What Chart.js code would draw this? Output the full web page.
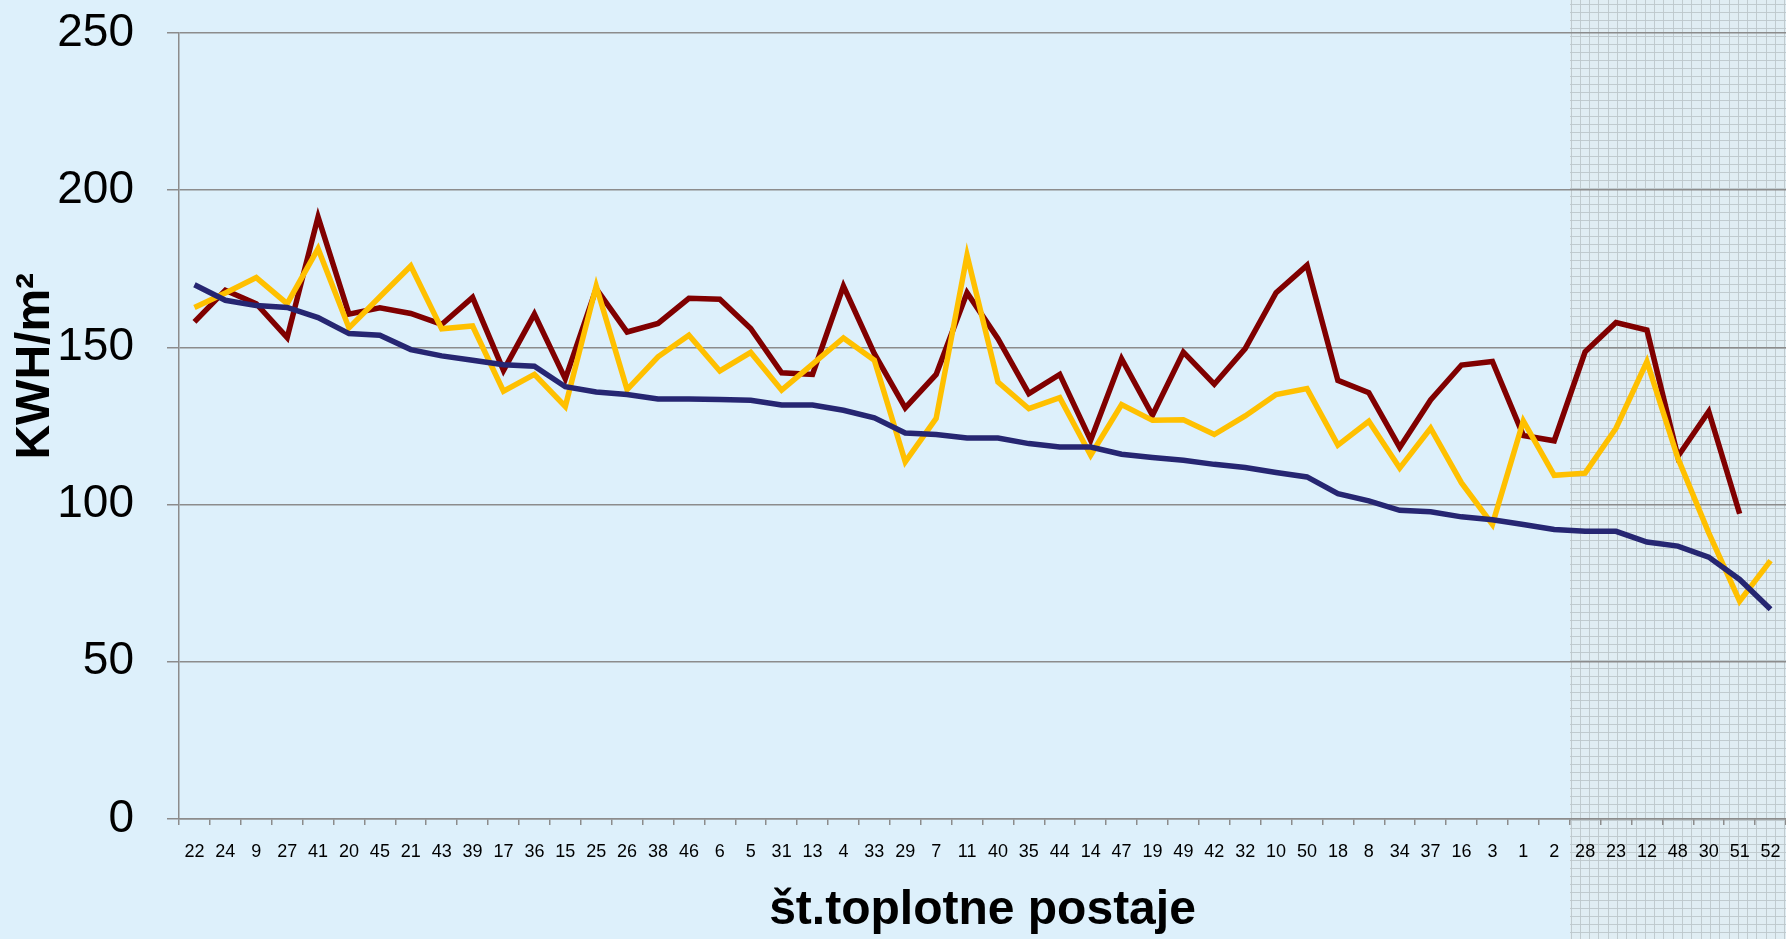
<!DOCTYPE html>
<html>
<head>
<meta charset="utf-8">
<script src="https://cdn.jsdelivr.net/npm/chart.js@4.4.0/dist/chart.umd.min.js"></script>
<style>
  html, body { margin: 0; padding: 0; background: #ddf0fb; }
  #wrap { width: 1786px; height: 939px; }
</style>
</head>
<body>
<div id="wrap"><canvas id="c" width="1786" height="939"></canvas></div>
<script>
const categories = ['22','24','9','27','41','20','45','21','43','39','17','36','15','25','26','38','46','6','5','31','13','4','33','29','7','11','40','35','44','14','47','19','49','42','32','10','50','18','8','34','37','16','3','1','2','28','23','12','48','30','51','52'];

const seriesRed = [158.1,168.2,163.9,153.1,191.5,160.6,162.6,160.8,157.3,165.9,142.7,160.6,140.0,168.7,154.9,157.6,165.6,165.3,156.0,141.9,141.4,169.5,148.0,130.8,141.4,167.4,152.8,135.3,141.4,120.5,146.4,128.4,148.5,138.3,149.6,167.4,176.1,139.5,135.6,118.2,133.3,144.4,145.5,122.0,120.3,148.6,157.9,155.5,115.3,129.6,97.1,null];

const seriesYellow = [162.7,167.3,172.2,163.9,181.4,156.2,166.1,175.9,155.9,156.8,136.1,141.4,131.2,169.5,136.6,147.0,153.9,142.5,148.4,136.4,144.7,153.0,145.9,113.6,127.4,179.3,139.0,130.5,134.0,115.7,131.8,126.8,127.0,122.3,128.2,135.0,136.9,118.9,126.5,111.6,124.3,106.9,93.7,126.6,109.3,110.0,124.3,145.5,114.8,91.0,69.3,82.2];

const seriesBlue = [169.9,165.0,163.3,162.7,159.5,154.4,153.9,149.3,147.3,145.9,144.5,144.0,137.5,135.8,135.0,133.6,133.6,133.4,133.2,131.7,131.7,130.0,127.6,122.8,122.3,121.2,121.2,119.4,118.3,118.3,116.0,115.0,114.1,112.8,111.8,110.2,108.8,103.5,101.2,98.2,97.7,96.1,95.2,93.7,92.1,91.5,91.5,88.1,86.8,83.3,76.2,66.7];

const yTicks = [0, 50, 100, 150, 200, 250];
const shadedFrom = '28';
const xTitle = 'št.toplotne postaje';
const yTitle = 'KWH/m²';

const bgPlugin = {
  id: 'bgPlugin',
  beforeDraw(chart) {
    const ctx = chart.ctx;
    const W = chart.width, H = chart.height;
    ctx.save();
    ctx.fillStyle = '#ddf0fb';
    ctx.fillRect(0, 0, W, H);
    const xs = chart.scales.x;
    const idx = categories.indexOf(shadedFrom);
    const half = (xs.getPixelForValue(1) - xs.getPixelForValue(0)) / 2;
    const x0 = Math.round(xs.getPixelForValue(idx) - half);
    ctx.fillStyle = '#e0edf3';
    ctx.fillRect(x0, 0, W - x0, H);
    ctx.strokeStyle = 'rgba(188,198,203,0.9)';
    ctx.lineWidth = 1;
    ctx.beginPath();
    for (let x = x0 + 0.5; x < W; x += 9.3) {
      ctx.moveTo(Math.round(x) + 0.5, 0);
      ctx.lineTo(Math.round(x) + 0.5, H);
    }
    for (let y = 4; y < H; y += 8) {
      ctx.moveTo(x0, y + 0.5);
      ctx.lineTo(W, y + 0.5);
    }
    ctx.stroke();
    ctx.restore();
  },
  afterDraw(chart) {
    const ctx = chart.ctx;
    const ys = chart.scales.y;
    ctx.save();
    ctx.fillStyle = '#000';
    ctx.font = 'bold 48px "Liberation Sans", Arial, sans-serif';
    ctx.textAlign = 'center';
    ctx.textBaseline = 'alphabetic';
    const cy = ys.getPixelForValue(144);
    ctx.translate(49, cy);
    ctx.rotate(-Math.PI / 2);
    ctx.fillText(yTitle, 0, 0);
    ctx.restore();
  }
};

const gridGray = '#8c8c8c';

new Chart(document.getElementById('c'), {
  type: 'line',
  data: {
    labels: categories,
    datasets: [
      { label: 'blue', data: seriesBlue, borderColor: '#262672', borderWidth: 5.5, order: 1 },
      { label: 'yellow', data: seriesYellow, borderColor: '#ffc000', borderWidth: 5.5, order: 2 },
      { label: 'red', data: seriesRed, borderColor: '#800000', borderWidth: 5.5, order: 3 }
    ]
  },
  options: {
    responsive: false,
    animation: false,
    devicePixelRatio: 1,
    layout: { padding: { top: 33, right: 0, left: 0, bottom: 0 } },
    elements: {
      line: { tension: 0, fill: false, borderJoinStyle: 'miter' },
      point: { radius: 0, hoverRadius: 0 }
    },
    plugins: {
      legend: { display: false },
      tooltip: { enabled: false }
    },
    scales: {
      x: {
        type: 'category',
        offset: true,
        afterFit(scale) { scale.height = 120; scale.paddingLeft = 0; scale.paddingRight = 0; },
        grid: {
          offset: true,
          drawOnChartArea: false,
          drawTicks: true,
          tickLength: 6,
          color: gridGray,
          lineWidth: 1.5
        },
        border: { display: true, color: gridGray, width: 1.5 },
        ticks: {
          autoSkip: false,
          maxRotation: 0,
          minRotation: 0,
          padding: 16,
          color: '#000',
          font: { family: '"Liberation Sans", Arial, sans-serif', size: 18 }
        },
        title: {
          display: true,
          text: xTitle,
          color: '#000',
          font: { family: '"Liberation Sans", Arial, sans-serif', size: 48, weight: 'bold', lineHeight: 1 },
          padding: { top: 0, bottom: 4 }
        }
      },
      y: {
        min: 0,
        max: 250,
        afterFit(scale) { scale.width = 179; scale.paddingTop = 0; scale.paddingBottom = 0; },
        afterBuildTicks(scale) { scale.ticks = yTicks.map(v => ({ value: v })); },
        grid: {
          color: gridGray,
          lineWidth: 1.5,
          tickLength: 12,
          drawTicks: true
        },
        border: { display: true, color: gridGray, width: 1.5 },
        ticks: {
          stepSize: 50,
          padding: 33,
          color: '#000',
          font: { family: '"Liberation Sans", Arial, sans-serif', size: 46 }
        }
      }
    }
  },
  plugins: [bgPlugin]
});
</script>
</body>
</html>
